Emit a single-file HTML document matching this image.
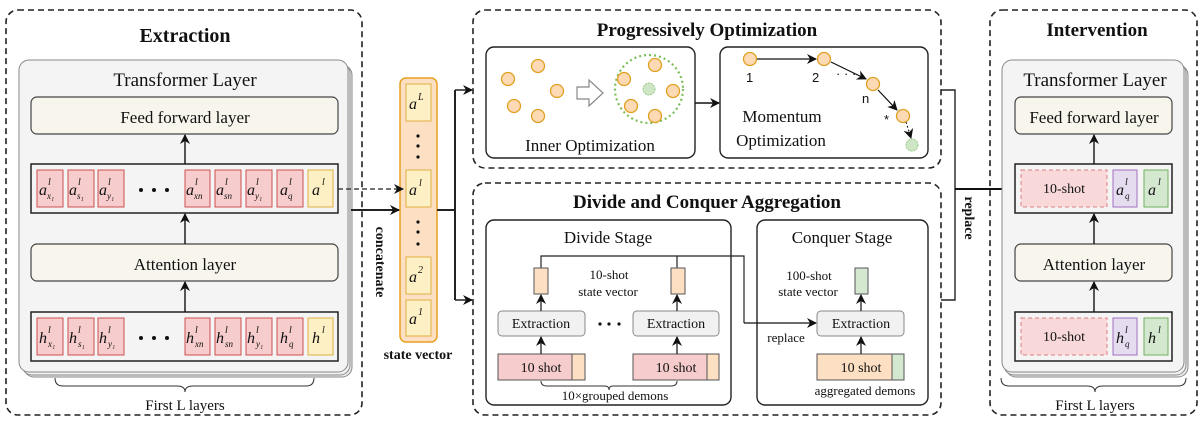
<!DOCTYPE html>
<html><head><meta charset="utf-8"><style>
body{margin:0;background:#fff}
svg{display:block}
text{font-family:"Liberation Serif",serif;fill:#111}
.b{font-weight:bold}
.m{font-style:italic}
.sup{font-size:10px;font-style:italic}
.sub{font-size:9px;font-style:italic}
</style></head><body>
<svg width="1200" height="422" viewBox="0 0 1200 422" xmlns="http://www.w3.org/2000/svg">
<defs>
<marker id="ar" markerWidth="10" markerHeight="10" refX="9" refY="5" orient="auto" markerUnits="userSpaceOnUse"><path d="M0,0 L10,5 L0,10 L3,5 z" fill="#111"/></marker>
</defs>
<g fill="none" stroke="#222" stroke-width="1.6" stroke-dasharray="6,4">
<rect x="6" y="10" width="356" height="405" rx="12"/>
<rect x="473" y="10" width="468" height="158" rx="12"/>
<rect x="473" y="183" width="468" height="232" rx="12"/>
<rect x="990" y="10" width="207" height="405" rx="12"/>
</g>
<text x="185" y="42" font-size="20" text-anchor="middle" class="b">Extraction</text>
<text x="707" y="36" font-size="19" text-anchor="middle" class="b">Progressively Optimization</text>
<text x="707" y="208" font-size="19" text-anchor="middle" class="b">Divide and Conquer Aggregation</text>
<text x="1097" y="36" font-size="19" text-anchor="middle" class="b">Intervention</text>

<!-- left transformer stack -->
<g stroke="#888" stroke-width="1">
<rect x="24" y="65" width="328" height="312" rx="10" fill="#eee"/>
<rect x="22" y="63" width="328" height="312" rx="10" fill="#f0f0f0"/>
<rect x="19" y="60" width="329" height="312" rx="10" fill="#f4f4f4"/>
</g>
<text x="185" y="86" font-size="19" text-anchor="middle">Transformer Layer</text>
<rect x="31" y="97" width="307" height="37" rx="6" fill="#f8f6ec" stroke="#444" stroke-width="1.2"/>
<text x="185" y="123" font-size="17" text-anchor="middle">Feed forward layer</text>
<rect x="31" y="164" width="307" height="49" fill="#f4f4f4" stroke="#222" stroke-width="1.5"/>
<rect x="31" y="244" width="307" height="37" rx="6" fill="#f8f6ec" stroke="#444" stroke-width="1.2"/>
<text x="185" y="270" font-size="17" text-anchor="middle">Attention layer</text>
<rect x="31" y="312" width="307" height="49" fill="#f4f4f4" stroke="#222" stroke-width="1.5"/>
<g stroke="#111" stroke-width="1.4" marker-end="url(#ar)">
<line x1="185" y1="164" x2="185" y2="135"/>
<line x1="185" y1="244" x2="185" y2="214"/>
<line x1="185" y1="312" x2="185" y2="282"/>
</g>
<g stroke="#d05050" stroke-width="1" fill="#f6cccc">
<rect x="37" y="170" width="26" height="37"/><rect x="68" y="170" width="26" height="37"/><rect x="98" y="170" width="26" height="37"/>
<rect x="185" y="170" width="25" height="37"/><rect x="215" y="170" width="26" height="37"/><rect x="246" y="170" width="26" height="37"/><rect x="277" y="170" width="26" height="37"/>
<rect x="37" y="318" width="26" height="37"/><rect x="68" y="318" width="26" height="37"/><rect x="98" y="318" width="26" height="37"/>
<rect x="185" y="318" width="25" height="37"/><rect x="215" y="318" width="26" height="37"/><rect x="246" y="318" width="26" height="37"/><rect x="277" y="318" width="26" height="37"/>
</g>
<g stroke="#e0b040" stroke-width="1" fill="#fdf0c4">
<rect x="308" y="170" width="25" height="37"/><rect x="308" y="318" width="25" height="37"/>
</g>
<g font-size="16" class="m">
<text x="39" y="195">a</text><text x="69" y="195">a</text><text x="99" y="195">a</text>
<text x="186" y="195">a</text><text x="216" y="195">a</text><text x="247" y="195">a</text><text x="280" y="195">a</text><text x="312" y="195">a</text>
<text x="39" y="343">h</text><text x="69" y="343">h</text><text x="99" y="343">h</text>
<text x="186" y="343">h</text><text x="216" y="343">h</text><text x="247" y="343">h</text><text x="280" y="343">h</text><text x="312" y="343">h</text>
</g>
<g class="sup">
<text x="48" y="185">l</text><text x="78" y="185">l</text><text x="108" y="185">l</text><text x="195" y="185">l</text><text x="225" y="185">l</text><text x="256" y="185">l</text><text x="289" y="185">l</text><text x="322" y="185">l</text>
<text x="48" y="333">l</text><text x="78" y="333">l</text><text x="108" y="333">l</text><text x="195" y="333">l</text><text x="225" y="333">l</text><text x="256" y="333">l</text><text x="289" y="333">l</text><text x="322" y="333">l</text>
</g>
<g class="sub">
<text x="47" y="199">x₁</text><text x="77" y="199">s₁</text><text x="107" y="199">y₁</text><text x="194" y="199">xn</text><text x="224" y="199">sn</text><text x="255" y="199">y₁</text><text x="288" y="199">q</text>
<text x="48" y="347">x₁</text><text x="78" y="347">s₁</text><text x="108" y="347">y₁</text><text x="195" y="347">xn</text><text x="225" y="347">sn</text><text x="256" y="347">y₁</text><text x="289" y="347">q</text>
</g>
<g fill="#111"><circle cx="141" cy="190" r="2"/><circle cx="154" cy="190" r="2"/><circle cx="167" cy="190" r="2"/>
<circle cx="141" cy="338" r="2"/><circle cx="154" cy="338" r="2"/><circle cx="167" cy="338" r="2"/></g>
<path d="M55,378 q0,8 8,8 h114 q8,0 8,6 q0,-6 8,-6 h113 q8,0 8,-8" fill="none" stroke="#333" stroke-width="1"/>
<text x="185" y="410" font-size="15" text-anchor="middle">First L layers</text>

<!-- state vector -->
<rect x="400" y="78" width="37" height="264" rx="6" fill="#fde0c4" stroke="#e8a020" stroke-width="1.5"/>
<g fill="#fdf0c4" stroke="#e0b040" stroke-width="1">
<rect x="406" y="84" width="25" height="37"/><rect x="406" y="170" width="25" height="37"/><rect x="406" y="257" width="25" height="37"/><rect x="406" y="300" width="25" height="36"/>
</g>
<g font-size="16" class="m">
<text x="409" y="109">a</text><text x="409" y="195">a</text><text x="409" y="282">a</text><text x="409" y="324">a</text>
</g>
<g class="sup">
<text x="418" y="100">L</text><text x="419" y="186">l</text><text x="418" y="273">2</text><text x="418" y="315">1</text>
</g>
<g fill="#111"><circle cx="418" cy="136" r="1.6"/><circle cx="418" cy="146" r="1.6"/><circle cx="418" cy="157" r="1.6"/>
<circle cx="418" cy="222" r="1.6"/><circle cx="418" cy="232" r="1.6"/><circle cx="418" cy="244" r="1.6"/></g>
<text x="418" y="359" font-size="14" text-anchor="middle" class="b">state vector</text>
<line x1="338" y1="189" x2="403" y2="189" stroke="#222" stroke-width="1.2" stroke-dasharray="5,3" marker-end="url(#ar)"/>
<line x1="351" y1="210" x2="399" y2="210" stroke="#222" stroke-width="2" marker-end="url(#ar)"/>
<text transform="translate(376,262) rotate(90)" font-size="14" text-anchor="middle" class="b">concatenate</text>
<path d="M437,210 H455 M455,90 V300" stroke="#222" stroke-width="2" fill="none"/>
<line x1="455" y1="90" x2="472" y2="90" stroke="#222" stroke-width="1.4" marker-end="url(#ar)"/>
<line x1="455" y1="300" x2="472" y2="300" stroke="#222" stroke-width="1.4" marker-end="url(#ar)"/>

<!-- progressive -->
<rect x="486" y="47" width="209" height="111" rx="8" fill="#fff" stroke="#222" stroke-width="1.4"/>
<rect x="720" y="47" width="208" height="111" rx="8" fill="#fff" stroke="#222" stroke-width="1.4"/>
<line x1="695" y1="103" x2="719" y2="103" stroke="#111" stroke-width="1.4" marker-end="url(#ar)"/>
<circle cx="649" cy="89" r="34" fill="none" stroke="#7cbf5a" stroke-width="2.2" stroke-dasharray="2,3"/>
<circle cx="649" cy="89" r="6" fill="#cfe6c6" stroke="#9cc88a" stroke-width="1" stroke-dasharray="2,1"/>
<g fill="#fdd9b4" stroke="#e0a020" stroke-width="1.3">
<circle cx="508" cy="79" r="6.5"/><circle cx="538" cy="66" r="6.5"/><circle cx="557" cy="91" r="6.5"/><circle cx="514" cy="106" r="6.5"/><circle cx="538" cy="116" r="6.5"/>
<circle cx="655" cy="65" r="6.5"/><circle cx="624" cy="79" r="6.5"/><circle cx="673" cy="91" r="6.5"/><circle cx="631" cy="106" r="6.5"/><circle cx="655" cy="116" r="6.5"/>
<circle cx="750" cy="59" r="6.5"/><circle cx="824" cy="59" r="6.5"/><circle cx="873" cy="84" r="6.5"/><circle cx="903" cy="116" r="6.5"/>
</g>
<circle cx="912" cy="145" r="6" fill="#cfe6c6" stroke="#9cc88a" stroke-dasharray="2,1"/>
<path d="M577,87 h12 v-7 l14,13 l-14,13 v-7 h-12 z" fill="#fff" stroke="#888" stroke-width="1.2"/>
<text x="590" y="151" font-size="17" text-anchor="middle">Inner Optimization</text>
<g stroke="#111" stroke-width="1.2" marker-end="url(#ar)">
<line x1="757" y1="59" x2="816" y2="59"/>
<line x1="831" y1="62" x2="866" y2="79"/>
<line x1="878" y1="90" x2="897" y2="110"/>
</g>
<line x1="906" y1="122" x2="911" y2="138" stroke="#111" stroke-width="1" stroke-dasharray="2,2" marker-end="url(#ar)"/>
<g font-size="13">
<text x="746" y="82" style="font-family:'Liberation Sans',sans-serif">1</text>
<text x="812" y="82" style="font-family:'Liberation Sans',sans-serif">2</text>
<text x="862" y="103" style="font-family:'Liberation Sans',sans-serif">n</text>
<text x="884" y="124" style="font-family:'Liberation Sans',sans-serif">*</text>
<text x="836" y="78" style="font-family:'Liberation Sans',sans-serif">· · ·</text>
</g>
<text x="782" y="122" font-size="17" text-anchor="middle">Momentum</text>
<text x="781" y="146" font-size="17" text-anchor="middle">Optimization</text>

<!-- divide & conquer -->
<rect x="486" y="220" width="245" height="185" rx="8" fill="#fff" stroke="#222" stroke-width="1.4"/>
<rect x="757" y="220" width="171" height="185" rx="8" fill="#fff" stroke="#222" stroke-width="1.4"/>
<text x="608" y="243" font-size="17" text-anchor="middle">Divide Stage</text>
<text x="842" y="243" font-size="17" text-anchor="middle">Conquer Stage</text>
<path d="M541,268 V256 H744 V323 M677,256 V268" fill="none" stroke="#222" stroke-width="1.2"/>
<line x1="744" y1="323" x2="816" y2="323" stroke="#111" stroke-width="1.2" marker-end="url(#ar)"/>
<g stroke="#555" stroke-width="1">
<rect x="534" y="268" width="14" height="26" fill="#fde0c4"/>
<rect x="671" y="268" width="14" height="26" fill="#fde0c4"/>
<rect x="855" y="268" width="13" height="26" fill="#d4e8d0"/>
<rect x="498" y="311" width="87" height="25" rx="4" fill="#f1f1f1" stroke="#888"/>
<rect x="633" y="311" width="86" height="25" rx="4" fill="#f1f1f1" stroke="#888"/>
<rect x="817" y="311" width="87" height="25" rx="4" fill="#f1f1f1" stroke="#888"/>
<rect x="498" y="354" width="87" height="26" fill="#f6cccc"/><rect x="572" y="354" width="13" height="26" fill="#fde0c4"/>
<rect x="633" y="354" width="86" height="26" fill="#f6cccc"/><rect x="707" y="354" width="12" height="26" fill="#fde0c4"/>
<rect x="817" y="354" width="87" height="26" fill="#fde0c4"/><rect x="892" y="354" width="12" height="26" fill="#d4e8d0"/>
</g>
<g stroke="#111" stroke-width="1.2" marker-end="url(#ar)">
<line x1="541" y1="354" x2="541" y2="337"/><line x1="541" y1="311" x2="541" y2="295"/>
<line x1="677" y1="354" x2="677" y2="337"/><line x1="677" y1="311" x2="677" y2="295"/>
<line x1="861" y1="354" x2="861" y2="337"/><line x1="861" y1="311" x2="861" y2="295"/>
</g>
<g font-size="14" text-anchor="middle" fill="#333">
<text x="541" y="328">Extraction</text><text x="676" y="328">Extraction</text><text x="861" y="328">Extraction</text>
<text x="541" y="372">10 shot</text><text x="676" y="372">10 shot</text><text x="861" y="372">10 shot</text>
</g>
<g fill="#111"><circle cx="600" cy="324" r="1.6"/><circle cx="609" cy="324" r="1.6"/><circle cx="619" cy="324" r="1.6"/></g>
<g font-size="13" text-anchor="middle">
<text x="609" y="279">10-shot</text><text x="608" y="296">state vector</text>
<text x="809" y="280">100-shot</text><text x="808" y="296">state vector</text>
<text x="786" y="342">replace</text>
<text x="615" y="400">10×grouped demons</text>
<text x="865" y="395">aggregated demons</text>
</g>
<path d="M541,381 q0,5 6,5 h58 q4,0 4,4 q0,-4 4,-4 h58 q6,0 6,-5" fill="none" stroke="#333" stroke-width="1"/>

<!-- replace connector -->
<path d="M941,90 H955 V300 H941" fill="none" stroke="#222" stroke-width="1.4"/>
<line x1="955" y1="189" x2="1013" y2="189" stroke="#111" stroke-width="2" marker-end="url(#ar)"/>
<text transform="translate(965,218) rotate(90)" font-size="14" text-anchor="middle" class="b">replace</text>

<!-- intervention -->
<g stroke="#888" stroke-width="1">
<rect x="1006" y="65" width="182" height="312" rx="10" fill="#eee"/>
<rect x="1004" y="63" width="182" height="312" rx="10" fill="#f0f0f0"/>
<rect x="1002" y="60" width="182" height="312" rx="10" fill="#f4f4f4"/>
</g>
<text x="1095" y="86" font-size="19" text-anchor="middle">Transformer Layer</text>
<rect x="1015" y="97" width="157" height="37" rx="6" fill="#f8f6ec" stroke="#444" stroke-width="1.2"/>
<text x="1094" y="123" font-size="17" text-anchor="middle">Feed forward layer</text>
<rect x="1015" y="164" width="157" height="49" fill="#f4f4f4" stroke="#222" stroke-width="1.5"/>
<rect x="1015" y="244" width="157" height="37" rx="6" fill="#f8f6ec" stroke="#444" stroke-width="1.2"/>
<text x="1094" y="270" font-size="17" text-anchor="middle">Attention layer</text>
<rect x="1015" y="312" width="157" height="49" fill="#f4f4f4" stroke="#222" stroke-width="1.5"/>
<g stroke="#111" stroke-width="1.4" marker-end="url(#ar)">
<line x1="1094" y1="164" x2="1094" y2="135"/>
<line x1="1094" y1="244" x2="1094" y2="214"/>
<line x1="1094" y1="312" x2="1094" y2="282"/>
</g>
<rect x="1021" y="170" width="86" height="37" fill="#f8d8d8" stroke="#e08080" stroke-dasharray="4,3"/>
<rect x="1021" y="318" width="86" height="37" fill="#f8d8d8" stroke="#e08080" stroke-dasharray="4,3"/>
<rect x="1113" y="170" width="24" height="37" fill="#e6dcef" stroke="#a070c0"/>
<rect x="1113" y="318" width="24" height="37" fill="#e6dcef" stroke="#a070c0"/>
<rect x="1144" y="170" width="24" height="37" fill="#d4e8d0" stroke="#70b060"/>
<rect x="1144" y="318" width="24" height="37" fill="#d4e8d0" stroke="#70b060"/>
<g font-size="14" text-anchor="middle"><text x="1064" y="193">10-shot</text><text x="1064" y="341">10-shot</text></g>
<g font-size="16" class="m">
<text x="1116" y="195">a</text><text x="1148" y="195">a</text>
<text x="1116" y="343">h</text><text x="1148" y="343">h</text>
</g>
<g class="sup">
<text x="1125" y="185">l</text><text x="1158" y="185">l</text><text x="1125" y="333">l</text><text x="1158" y="333">l</text>
</g>
<g class="sub"><text x="1125" y="199">q</text><text x="1125" y="347">q</text></g>
<path d="M1001,378 q0,8 8,8 h78 q8,0 8,6 q0,-6 8,-6 h75 q8,0 8,-8" fill="none" stroke="#333" stroke-width="1"/>
<text x="1095" y="410" font-size="15" text-anchor="middle">First L layers</text>
</svg>
</body></html>
